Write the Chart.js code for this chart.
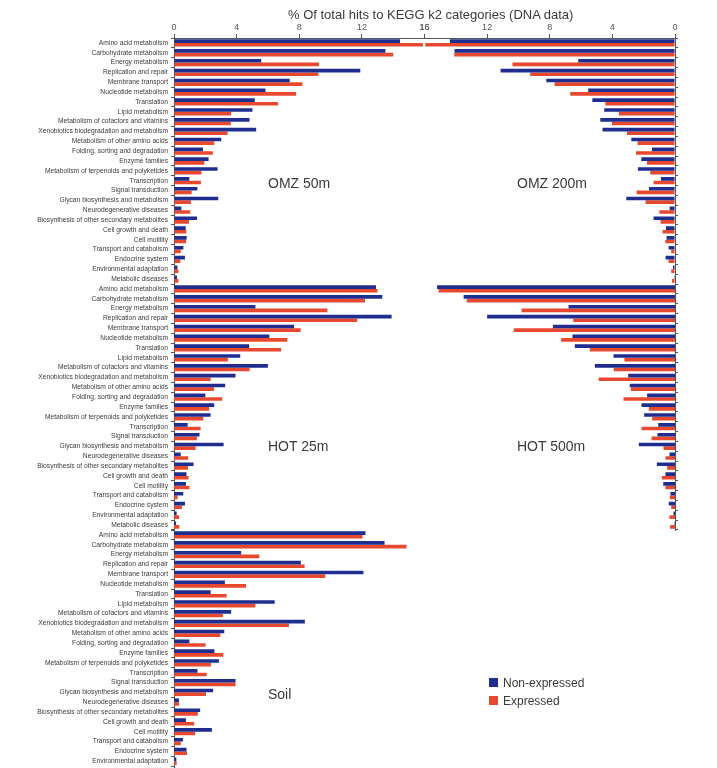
<!DOCTYPE html>
<html>
<head>
<meta charset="utf-8">
<script src="https://cdn.jsdelivr.net/npm/chart.js@4.4.0/dist/chart.umd.min.js"></script>
<style>
html,body{margin:0;padding:0;background:#fff;}
#wrap{position:relative;width:717px;height:768px;overflow:hidden;background:#fff;font-family:"Liberation Sans",Arial,sans-serif;}
#wrap canvas{position:absolute;left:0;top:0;}
.lbl{position:absolute;color:#3a3a3a;white-space:nowrap;line-height:1;}
.sq{position:absolute;width:9px;height:9px;}
</style>
</head>
<body>
<div id="wrap">
  <canvas id="c1" width="717" height="780"></canvas>
  <canvas id="c2" width="717" height="780"></canvas>
  <canvas id="c3" width="717" height="780"></canvas>
  <canvas id="c4" width="717" height="780"></canvas>
  <canvas id="c5" width="717" height="780"></canvas>
  <div class="lbl" style="left:288px;top:8px;font-size:13px;">% Of total hits to KEGG k2 categories (DNA data)</div>
  <div class="lbl" style="left:268px;top:176px;font-size:14px;">OMZ 50m</div>
  <div class="lbl" style="left:517px;top:176px;font-size:14px;">OMZ 200m</div>
  <div class="lbl" style="left:268px;top:439px;font-size:14px;">HOT 25m</div>
  <div class="lbl" style="left:517px;top:439px;font-size:14px;">HOT 500m</div>
  <div class="lbl" style="left:268px;top:687px;font-size:14px;">Soil</div>
  <div class="sq" style="left:489px;top:678px;background:#1f2d8f;"></div>
  <div class="lbl" style="left:503px;top:677px;font-size:12px;">Non-expressed</div>
  <div class="sq" style="left:489px;top:696px;background:#e8482e;"></div>
  <div class="lbl" style="left:503px;top:695px;font-size:12px;">Expressed</div>
</div>
<script>
const categories = [
  "Amino acid metabolism","Carbohydrate metabolism","Energy metabolism","Replication and repair",
  "Membrane transport","Nucleotide metabolism","Translation","Lipid metabolism",
  "Metabolism of cofactors and vitamins","Xenobiotics biodegradation and metabolism",
  "Metabolism of other amino acids","Folding, sorting and degradation","Enzyme families",
  "Metabolism of terpenoids and polyketides","Transcription","Signal transduction",
  "Glycan biosynthesis and metabolism","Neurodegenerative diseases",
  "Biosynthesis of other secondary metabolites","Cell growth and death","Cell motility",
  "Transport and catabolism","Endocrine system","Environmental adaptation","Metabolic diseases"
];
const xTickValues = [0, 4, 8, 12, 16];

const omz50NonExpressed  = [14.44, 13.5, 5.57, 11.9, 7.39, 5.84, 5.16, 5.01, 4.82, 5.25, 3.02, 1.85, 2.21, 2.78, 0.98, 1.49, 2.83, 0.47, 1.47, 0.75, 0.81, 0.6, 0.7, 0.22, 0.19];
const omz50Expressed     = [15.9, 14.0, 9.26, 9.22, 8.2, 7.8, 6.65, 3.65, 3.63, 3.42, 2.57, 2.48, 1.94, 1.75, 1.72, 1.13, 1.08, 1.04, 0.96, 0.79, 0.77, 0.43, 0.41, 0.28, 0.28];
const omz200NonExpressed = [14.38, 14.08, 6.18, 11.14, 8.22, 5.54, 5.28, 4.52, 4.77, 4.63, 2.79, 1.47, 2.15, 2.37, 0.9, 1.66, 3.11, 0.34, 1.37, 0.58, 0.54, 0.41, 0.6, 0.13, 0.06];
const omz200Expressed    = [15.95, 14.1, 10.38, 9.25, 7.69, 6.69, 4.45, 3.58, 4.03, 3.07, 2.39, 2.49, 1.79, 1.58, 1.37, 2.45, 1.88, 1.0, 0.92, 0.79, 0.62, 0.24, 0.41, 0.24, 0.19];
const hot25NonExpressed  = [12.9, 13.3, 5.2, 13.9, 7.67, 6.09, 4.8, 4.23, 6.0, 3.93, 3.27, 2.0, 2.57, 2.34, 0.87, 1.63, 3.17, 0.43, 1.25, 0.8, 0.76, 0.59, 0.7, 0.17, 0.13];
const hot25Expressed     = [13.0, 12.2, 9.8, 11.7, 8.09, 7.24, 6.84, 3.44, 4.83, 2.34, 2.55, 3.08, 2.25, 1.87, 1.7, 1.46, 1.38, 0.9, 0.89, 0.93, 0.99, 0.23, 0.51, 0.32, 0.34];
const hot500NonExpressed = [15.2, 13.5, 6.8, 12.0, 7.8, 6.55, 6.4, 3.93, 5.12, 2.99, 2.89, 1.78, 2.14, 1.97, 1.07, 1.12, 2.31, 0.35, 1.16, 0.61, 0.75, 0.29, 0.4, 0.1, 0.03];
const hot500Expressed    = [15.1, 13.3, 9.8, 6.5, 10.3, 7.27, 5.44, 3.23, 3.91, 4.87, 2.82, 3.29, 1.67, 1.46, 2.14, 1.5, 0.73, 0.61, 0.5, 0.84, 0.61, 0.33, 0.24, 0.35, 0.31];
const soilNonExpressed   = [12.23, 13.45, 4.29, 8.1, 12.1, 3.25, 2.34, 6.43, 3.65, 8.36, 3.21, 0.98, 2.58, 2.87, 1.5, 3.93, 2.5, 0.32, 1.67, 0.76, 2.42, 0.57, 0.8, 0.15, 0.08];
const soilExpressed      = [12.04, 14.85, 5.45, 8.34, 9.66, 4.6, 3.36, 5.2, 3.12, 7.34, 2.96, 2.02, 3.15, 2.36, 2.09, 3.93, 2.04, 0.32, 1.52, 1.29, 1.35, 0.43, 0.83, 0.17, 0.05];

const BLUE = "#1f2d8f";
const RED = "#e8482e";
const AXIS = "#555555";
const FONT = '"Liberation Sans", Arial, sans-serif';
const CANVAS_W = 717, CANVAS_H = 780;
const LEFT_AXIS_X = 174, MID_X = 424.5, RIGHT_AXIS_X = 675;
const PANEL_H = 246, XAXIS_H = 18;

function makePanel(id, nonExp, exp, side, areaTop, showX) {
  const isLeft = side === "left";
  const padTop = showX ? areaTop - XAXIS_H : areaTop;
  const padBottom = CANVAS_H - (areaTop + PANEL_H);
  return new Chart(document.getElementById(id), {
    type: "bar",
    data: {
      labels: categories,
      datasets: [
        { label: "Non-expressed", data: nonExp, backgroundColor: BLUE, borderWidth: 0 },
        { label: "Expressed", data: exp, backgroundColor: RED, borderWidth: 0 }
      ]
    },
    options: {
      indexAxis: "y",
      responsive: false,
      animation: false,
      devicePixelRatio: 1,
      layout: {
        padding: {
          left: isLeft ? 0 : MID_X,
          right: isLeft ? CANVAS_W - MID_X : 0,
          top: padTop,
          bottom: padBottom
        }
      },
      datasets: { bar: { categoryPercentage: 0.74, barPercentage: 1.0 } },
      plugins: { legend: { display: false }, tooltip: { enabled: false } },
      scales: {
        x: {
          display: showX,
          position: "top",
          min: 0,
          max: 16,
          reverse: !isLeft,
          afterBuildTicks: (s) => { s.ticks = xTickValues.map(v => ({ value: v })); },
          ticks: { color: AXIS, font: { family: FONT, size: 9 }, padding: 1, maxRotation: 0 },
          grid: { drawOnChartArea: false, tickLength: 4, color: AXIS, lineWidth: 1 },
          border: { display: true, color: AXIS, width: 1 },
          afterFit: (s) => {
            s.height = showX ? XAXIS_H : 0;
            s.paddingLeft = 0; s.paddingRight = 0; s.paddingTop = 0; s.paddingBottom = 0;
          }
        },
        y: {
          position: isLeft ? "left" : "right",
          ticks: { display: isLeft, autoSkip: false, color: "#3a3a3a", font: { family: FONT, size: 6.7 }, padding: 3 },
          grid: { drawOnChartArea: false, tickLength: 3, color: AXIS, lineWidth: 1 },
          border: { display: true, color: AXIS, width: 1 },
          afterFit: (s) => {
            s.width = isLeft ? LEFT_AXIS_X : CANVAS_W - RIGHT_AXIS_X;
            s.paddingTop = 0; s.paddingBottom = 0;
          }
        }
      }
    }
  });
}

makePanel("c1", omz50NonExpressed, omz50Expressed, "left", 38, true);
makePanel("c2", omz200NonExpressed, omz200Expressed, "right", 38, true);
makePanel("c3", hot25NonExpressed, hot25Expressed, "left", 284, false);
makePanel("c4", hot500NonExpressed, hot500Expressed, "right", 284, false);
makePanel("c5", soilNonExpressed, soilExpressed, "left", 530, false);
</script>
</body>
</html>
